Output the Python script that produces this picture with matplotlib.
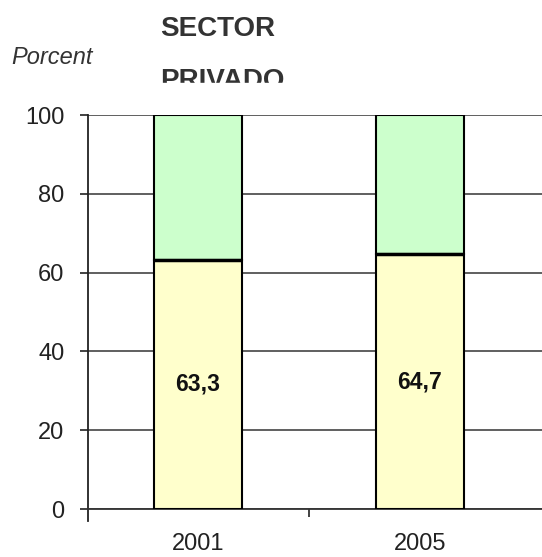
import numpy as np
import matplotlib
matplotlib.use('Agg')
import matplotlib.pyplot as plt
from matplotlib.patches import Rectangle

# data
years = ['2001', '2005']
privado = [63.3, 64.7]
resto = [100 - v for v in privado]
value_labels = ['63,3', '64,7']
yticks = [0, 20, 40, 60, 80, 100]

plt.rcParams['font.family'] = ['Liberation Sans', 'DejaVu Sans']

W, H = 542, 557
fig = plt.figure(figsize=(W / 100, H / 100), dpi=100)
ax = fig.add_axes([88 / W, 1 - 509 / H, (W - 88) / W, (509 - 115) / H])

x = np.arange(len(years))
ax.bar(x, privado, width=0.395, color='#FFFFCC', edgecolor='black', linewidth=1.5, zorder=3)
ax.bar(x, resto, width=0.395, bottom=privado, color='#CCFFCC', edgecolor='black',
       linewidth=1.5, zorder=3)
# thicker line where the two parts meet
for xi, v in zip(x, privado):
    ax.plot([xi - 0.1975, xi + 0.1975], [v, v], color='black', lw=2.5, zorder=4,
            solid_capstyle='butt')

for xi, v, lab in zip(x, privado, value_labels):
    ax.text(xi, v / 2, lab, ha='center', va='center', fontsize=16.5,
            fontweight='bold', color='#111111', zorder=5)

ax.set_ylim(0, 100)
ax.set_xlim(-0.495, 1.55)
ax.set_yticks(yticks)
ax.yaxis.grid(True, color='#444444', linewidth=1.2, zorder=1)
ax.set_axisbelow(True)

ax.set_xticks(x)
ax.set_xticklabels(years)
ax.set_xticks([0.5], minor=True)
ax.tick_params(axis='x', which='major', length=0, pad=17, labelsize=17, labelcolor='#222222')
ax.tick_params(axis='x', which='minor', length=6, width=1.2, direction='out', color='#222222')
ax.tick_params(axis='y', length=6, width=1.2, direction='out', pad=11, labelsize=17,
               labelcolor='#222222', color='#222222')

for s in ['top', 'right']:
    ax.spines[s].set_visible(False)
ax.spines['left'].set_color('#222222')
ax.spines['left'].set_linewidth(1.3)
ax.spines['bottom'].set_color('#333333')
ax.spines['bottom'].set_linewidth(1.3)
ax.spines['left'].set_bounds(-3, 100)
ax.spines['left'].set_clip_on(False)

fig.text(11 / W, 1 - 57 / H, 'Porcent', fontsize=17, style='italic', color='#333333',
         va='center', ha='left')
fig.text(160 / W, 1 - 36 / H, 'SECTOR', fontsize=20, fontweight='bold',
         color='#333333', va='baseline', ha='left')
fig.text(160 / W, 1 - 88 / H, 'PRIVADO', fontsize=20, fontweight='bold',
         color='#333333', va='baseline', ha='left')
# title box cuts the second line
fig.add_artist(Rectangle((150 / W, 1 - 110 / H), 200 / W, 27 / H,
                         transform=fig.transFigure, color='white', zorder=10))

fig.savefig('out.png', dpi=100)
